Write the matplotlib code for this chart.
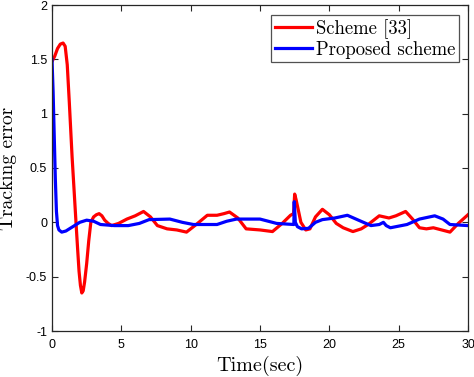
import matplotlib
matplotlib.use("Agg")
import matplotlib.pyplot as plt

# Data
t_red = [0, 0.2, 0.4, 0.6, 0.8, 0.95, 1.1, 1.25, 1.45, 1.6, 1.73, 1.85, 1.95, 2.05, 2.15, 2.25, 2.35, 2.5, 2.65, 2.8,
         3.0, 3.2, 3.4, 3.6, 3.8, 4.05, 4.3, 4.8, 5.4, 6.0, 6.6, 7.1, 7.6, 8.3, 9.0, 9.7, 10.4, 11.2, 11.9,
         12.4, 12.8, 13.4, 14.0, 15.0, 15.9, 16.6, 17.2, 17.42, 17.5, 17.6, 17.75, 17.95, 18.3, 18.6, 19.0,
         19.5, 20.0, 20.5, 21.0, 21.7, 22.3, 22.8, 23.6, 24.3, 24.8, 25.5, 26.0, 26.5, 27.0, 27.5, 28.1,
         28.7, 29.3, 30.0]
v_red = [1.48, 1.53, 1.6, 1.64, 1.65, 1.62, 1.45, 1.1, 0.6, 0.28, 0.0, -0.25, -0.45, -0.58, -0.65, -0.63, -0.55, -0.38, -0.17, 0.0,
         0.05, 0.07, 0.08, 0.06, 0.02, -0.01, -0.03, -0.01, 0.03, 0.06, 0.1, 0.05, -0.03, -0.06, -0.07, -0.09, -0.02, 0.065, 0.065,
         0.08, 0.095, 0.04, -0.06, -0.07, -0.085, -0.01, 0.065, 0.08, 0.26, 0.21, 0.12, 0.0, -0.07, -0.06, 0.05,
         0.12, 0.07, -0.01, -0.05, -0.085, -0.06, -0.02, 0.06, 0.04, 0.06, 0.1, 0.03, -0.05, -0.06, -0.05, -0.07,
         -0.09, -0.01, 0.07]

t_blue = [0, 0.08, 0.16, 0.24, 0.32, 0.4, 0.5, 0.7, 1.0, 1.5, 2.0, 2.5, 3.0, 3.5, 4.5, 5.5, 6.3, 7.0, 8.5, 9.4,
          10.2, 11.9, 12.6, 13.3, 15.0, 16.2, 17.44, 17.47, 17.55, 17.7, 18.0, 18.5, 19.0, 19.5, 20.4, 21.3,
          22.1, 23.0, 23.6, 23.9, 24.1, 24.4, 25.0, 25.6, 26.5, 27.6, 28.2, 28.7, 30.0]
v_blue = [1.5, 1.2, 0.8, 0.4, 0.1, -0.03, -0.07, -0.09, -0.08, -0.04, 0.0, 0.02, 0.01, -0.02, -0.03, -0.03, -0.01, 0.025, 0.03, 0.0,
          -0.02, -0.02, 0.01, 0.03, 0.03, -0.01, -0.02, 0.19, 0.0, -0.04, -0.06, -0.055, 0.0, 0.025, 0.04, 0.065,
          0.02, -0.03, -0.02, 0.0, -0.03, -0.05, -0.035, -0.02, 0.03, 0.06, 0.03, -0.02, -0.03]

x_ticks = [0, 5, 10, 15, 20, 25, 30]
y_ticks = [-1, -0.5, 0, 0.5, 1, 1.5, 2]
y_tick_labels = ["-1", "-0.5", "0", "0.5", "1", "1.5", "2"]
series_labels = ["Scheme [33]", "Proposed scheme"]

serif = ["cmr10", "Liberation Serif", "DejaVu Serif"]
sans = ["Liberation Sans", "DejaVu Sans"]

fig = plt.figure(figsize=(4.74, 3.77), dpi=100)
ax = fig.add_axes([52 / 474, 1 - 331 / 377, 416 / 474, 326 / 377])

ax.plot(t_red, v_red, color="#ff0000", lw=2.3, label=series_labels[0])
ax.plot(t_blue, v_blue, color="#0000ff", lw=2.3, label=series_labels[1])

ax.set_xlim(0, 30)
ax.set_ylim(-1, 2)
ax.set_xticks(x_ticks)
ax.set_xticklabels([str(v) for v in x_ticks], family=sans, fontsize=9)
ax.set_yticks(y_ticks)
ax.set_yticklabels(y_tick_labels, family=sans, fontsize=9)
ax.tick_params(direction="in", top=True, right=True, length=4, width=0.8, color="#262626")
ax.tick_params(axis="x", pad=5.5)
ax.tick_params(axis="y", pad=3.5)
for s in ax.spines.values():
    s.set_color("#262626")
    s.set_linewidth(0.9)

ax.set_xlabel("Time(sec)", family=serif, fontsize=14.5)
ax.xaxis.set_label_coords(0.5, -0.075)
ax.set_ylabel("Tracking error", family=serif, fontsize=14)
ax.yaxis.set_label_coords(-0.083, 0.5)

leg = ax.legend(loc="upper right", prop={"family": serif, "size": 13.5}, frameon=True, fancybox=False,
                edgecolor="#262626", handlelength=2.0, handletextpad=0.2, borderpad=0.2,
                labelspacing=0.1, borderaxespad=0.0, bbox_to_anchor=(0.9785, 0.969))
leg.get_frame().set_linewidth(0.9)

fig.savefig("out.png", dpi=100)
